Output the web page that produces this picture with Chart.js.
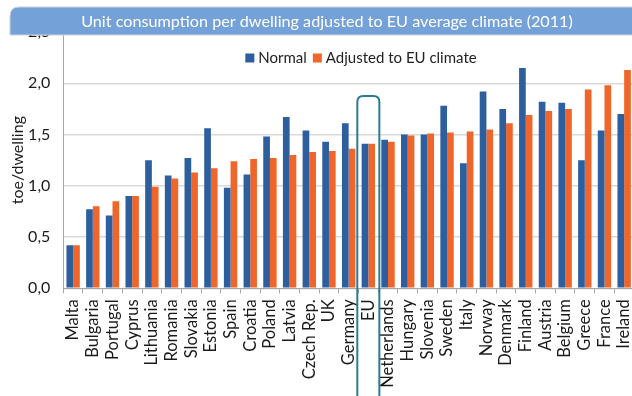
<!DOCTYPE html>
<html>
<head>
<meta charset="utf-8">
<script src="https://cdn.jsdelivr.net/npm/chart.js@4"></script>
<style>
  html, body { margin: 0; padding: 0; background: #ffffff; overflow: hidden; }
  #wrap { width: 632px; height: 396px; overflow: hidden; position: relative; }
  canvas { display: block; }
</style>
</head>
<body>
<div id="wrap"><canvas id="c" width="640" height="396"></canvas></div>
<script>
// Household energy use per dwelling, 2011 (toe/dwelling)
const countries = ['Malta', 'Bulgaria', 'Portugal', 'Cyprus', 'Lithuania', 'Romania', 'Slovakia',
  'Estonia', 'Spain', 'Croatia', 'Poland', 'Latvia', 'Czech Rep.', 'UK', 'Germany', 'EU',
  'Netherlands', 'Hungary', 'Slovenia', 'Sweden', 'Italy', 'Norway', 'Denmark', 'Finland',
  'Austria', 'Belgium', 'Greece', 'France', 'Ireland'];
const normal = [0.42, 0.77, 0.71, 0.90, 1.25, 1.10, 1.27, 1.56, 0.98, 1.11, 1.48, 1.67, 1.54, 1.43,
  1.61, 1.41, 1.45, 1.50, 1.50, 1.78, 1.22, 1.92, 1.75, 2.15, 1.82, 1.81, 1.25, 1.54, 1.70];
const adjusted = [0.42, 0.80, 0.85, 0.90, 0.99, 1.07, 1.13, 1.17, 1.24, 1.26, 1.27, 1.30, 1.33, 1.34,
  1.36, 1.41, 1.43, 1.49, 1.51, 1.52, 1.53, 1.55, 1.61, 1.69, 1.73, 1.75, 1.94, 1.98, 2.13];
const yTickLabels = ['0,0', '0,5', '1,0', '1,5', '2,0', '2,5'];
const seriesNames = ['Normal', 'Adjusted to EU climate'];
const titleText = 'Unit consumption per dwelling adjusted to EU average climate (2011)';
const highlighted = 'EU';

const BLUE = '#2d5e9e';
const ORANGE = '#f0652a';
const FONT = 'Lato, "Open Sans", sans-serif';

// Title banner drawn over the top of the plot
const bannerPlugin = {
  id: 'banner',
  afterDraw(chart) {
    const ctx = chart.ctx;
    const x = 10, y = 7, w = chart.width, h = 28, r = 9;
    ctx.save();
    ctx.beginPath();
    ctx.moveTo(x, y + h);
    ctx.lineTo(x, y + r);
    ctx.quadraticCurveTo(x, y, x + r, y);
    ctx.lineTo(x + w, y);
    ctx.lineTo(x + w, y + h);
    ctx.closePath();
    ctx.fillStyle = '#74a1d8';
    ctx.fill();
    ctx.strokeStyle = '#c9d3de';
    ctx.lineWidth = 1;
    ctx.stroke();
    ctx.fillStyle = '#ffffff';
    ctx.font = '16.2px ' + FONT;
    ctx.textAlign = 'center';
    ctx.textBaseline = 'middle';
    ctx.fillText(titleText, 327, y + h / 2 + 1);
    ctx.restore();
  }
};

// Legend row inside the plot area
const legendPlugin = {
  id: 'innerLegend',
  afterDatasetsDraw(chart) {
    const ctx = chart.ctx;
    ctx.save();
    ctx.font = '15px ' + FONT;
    ctx.textBaseline = 'middle';
    ctx.textAlign = 'left';
    const box = 9, gapBox = 4, gapItem = 6;
    const items = chart.data.datasets.map(d => ({ label: d.label, color: d.backgroundColor }));
    let total = 0;
    items.forEach((it, i) => {
      total += box + gapBox + ctx.measureText(it.label).width + (i < items.length - 1 ? gapItem : 0);
    });
    const cy = 58;
    let x = 361 - total / 2;
    items.forEach(it => {
      ctx.fillStyle = it.color;
      ctx.fillRect(x, cy - box / 2, box, box);
      x += box + gapBox;
      ctx.fillStyle = '#222222';
      ctx.fillText(it.label, x, cy);
      x += ctx.measureText(it.label).width + gapItem;
    });
    ctx.restore();
  }
};

// Rounded frame around the highlighted category, running down through its label
const highlightPlugin = {
  id: 'highlight',
  afterDraw(chart) {
    const xs = chart.scales.x, ys = chart.scales.y;
    const idx = countries.indexOf(highlighted);
    const cx = xs.getPixelForValue(idx);
    const half = xs.width / countries.length * 0.56;
    const top = ys.getPixelForValue(1.875);
    const left = cx - half, right = cx + half, r = 6;
    const ctx = chart.ctx;
    ctx.save();
    ctx.beginPath();
    ctx.moveTo(left, chart.height + 5);
    ctx.lineTo(left, top + r);
    ctx.quadraticCurveTo(left, top, left + r, top);
    ctx.lineTo(right - r, top);
    ctx.quadraticCurveTo(right, top, right, top + r);
    ctx.lineTo(right, chart.height + 5);
    ctx.strokeStyle = '#2a7b97';
    ctx.lineWidth = 2;
    ctx.stroke();
    ctx.restore();
  }
};

new Chart(document.getElementById('c'), {
  type: 'bar',
  data: {
    labels: countries,
    datasets: [
      { label: seriesNames[0], data: normal, backgroundColor: BLUE },
      { label: seriesNames[1], data: adjusted, backgroundColor: ORANGE }
    ]
  },
  options: {
    responsive: false,
    animation: false,
    devicePixelRatio: 1,
    layout: { padding: { left: 0, right: 6, top: 32, bottom: 0 } },
    datasets: { bar: { categoryPercentage: 0.68, barPercentage: 1.0 } },
    plugins: { legend: { display: false }, title: { display: false }, tooltip: { enabled: false } },
    scales: {
      x: {
        grid: { drawOnChartArea: false, drawTicks: true, tickLength: 5, color: '#a6a6a6', offset: true },
        border: { color: '#a6a6a6', width: 1 },
        ticks: {
          autoSkip: false, minRotation: 90, maxRotation: 90, padding: 6,
          color: '#1a1a1a', font: { family: FONT, size: 16.5 }
        },
        afterFit(scale) {
          scale.height = 107.7;
          scale.paddingLeft = 0;
          scale.paddingRight = 0;
        }
      },
      y: {
        min: 0, max: 2.5,
        grid: { color: '#d9d9d9', lineWidth: 1.5, drawTicks: false },
        border: { color: '#a6a6a6', width: 1 },
        ticks: {
          stepSize: 0.5, padding: 13, color: '#1a1a1a', font: { family: FONT, size: 16 },
          callback: (v, i) => yTickLabels[i]
        },
        title: {
          display: true, text: 'toe/dwelling', color: '#1a1a1a',
          font: { family: FONT, size: 16 }, padding: { top: 8, bottom: 0 }
        },
        afterFit(scale) {
          scale.width = 63.3;
          scale.paddingTop = 0;
          scale.paddingBottom = 0;
        }
      }
    }
  },
  plugins: [legendPlugin, highlightPlugin, bannerPlugin]
});
</script>
</body>
</html>
